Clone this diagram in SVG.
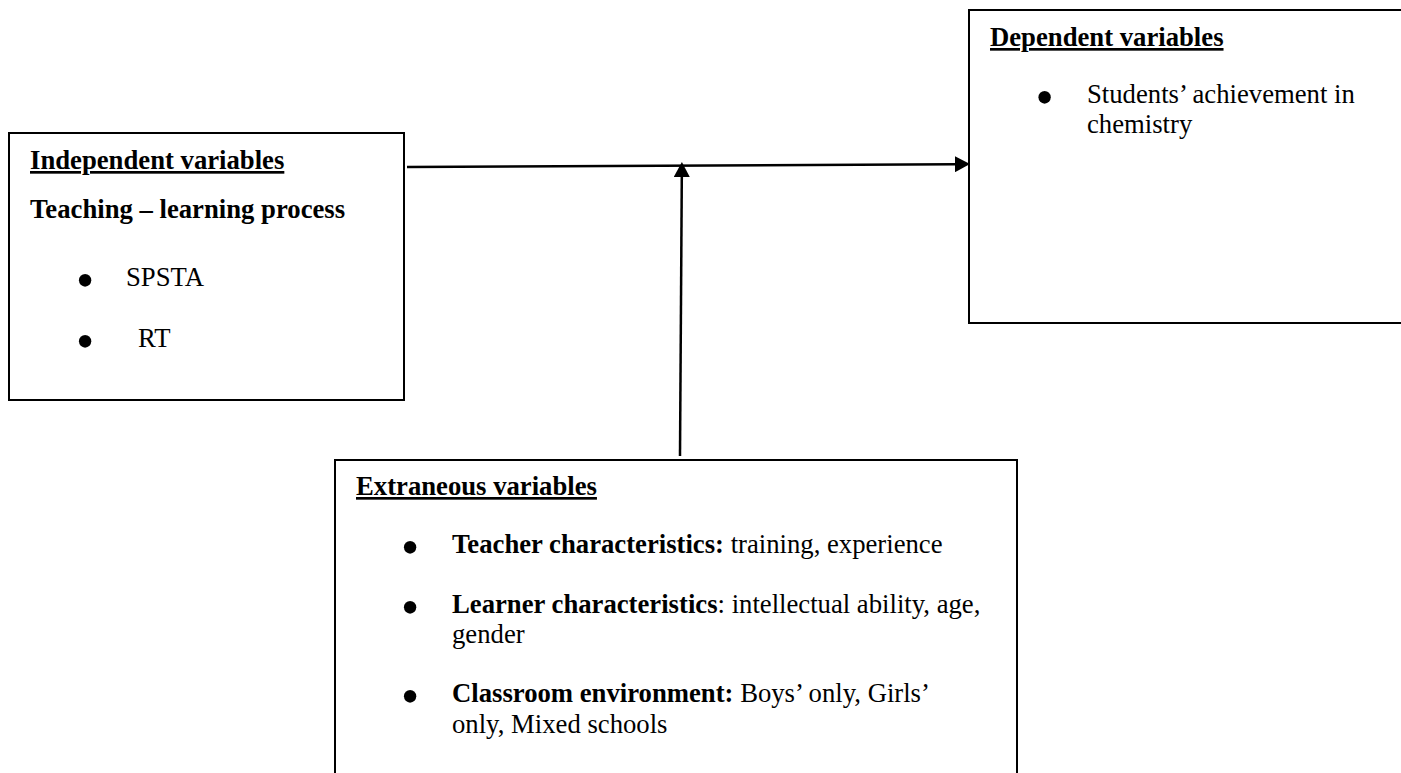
<svg xmlns="http://www.w3.org/2000/svg" width="1401" height="773" viewBox="0 0 1401 773">
<style>
  .box { fill: #fff; stroke: #000; stroke-width: 2; }
  text { font-family: "Liberation Serif", "Times New Roman", serif; font-size: 26.7px; fill: #000; }
  .b { font-weight: bold; }
  .u { text-decoration: underline; }
  .bul { text-anchor: middle; font-size: 52px; }
  .conn { stroke: #000; stroke-width: 2.5; fill: none; }
</style>
<defs>
  <marker id="arrow" markerUnits="userSpaceOnUse" markerWidth="15" markerHeight="16" refX="0" refY="8" orient="auto">
    <path d="M0,0 L15,8 L0,16 z" fill="#000"/>
  </marker>
</defs>
<rect width="1401" height="773" fill="#fff"/>

<g id="independent">
  <rect class="box" x="9" y="133" width="395" height="267"/>
  <text class="b u" x="30" y="169">Independent variables</text>
  <text class="b" x="30" y="218">Teaching – learning process</text>
  <text class="bul" x="85" y="297.5">•</text>
  <text x="126" y="286">SPSTA</text>
  <text class="bul" x="85" y="358.5">•</text>
  <text x="138" y="347">RT</text>
</g>

<g id="dependent">
  <rect class="box" x="969" y="10" width="440" height="313"/>
  <text class="b u" x="990" y="46">Dependent variables</text>
  <text class="bul" x="1044.5" y="114.5">•</text>
  <text x="1087" y="103">Students’ achievement in</text>
  <text x="1087" y="133">chemistry</text>
</g>

<g id="extraneous">
  <rect class="box" x="335" y="460" width="682" height="340"/>
  <text class="b u" x="356" y="495">Extraneous variables</text>
  <text class="bul" x="410" y="564.5">•</text>
  <text x="452" y="553"><tspan class="b">Teacher characteristics:</tspan> training, experience</text>
  <text class="bul" x="410" y="624.5">•</text>
  <text x="452" y="613"><tspan class="b">Learner characteristics</tspan>: intellectual ability, age,</text>
  <text x="452" y="643">gender</text>
  <text class="bul" x="410" y="713.5">•</text>
  <text x="452" y="702"><tspan class="b">Classroom environment:</tspan> Boys’ only, Girls’</text>
  <text x="452" y="733">only, Mixed schools</text>
</g>

<g id="connectors">
  <line class="conn" x1="407" y1="167" x2="955" y2="164.2" marker-end="url(#arrow)"/>
  <line class="conn" x1="680" y1="456" x2="681.8" y2="177" marker-end="url(#arrow)"/>
</g>
</svg>
